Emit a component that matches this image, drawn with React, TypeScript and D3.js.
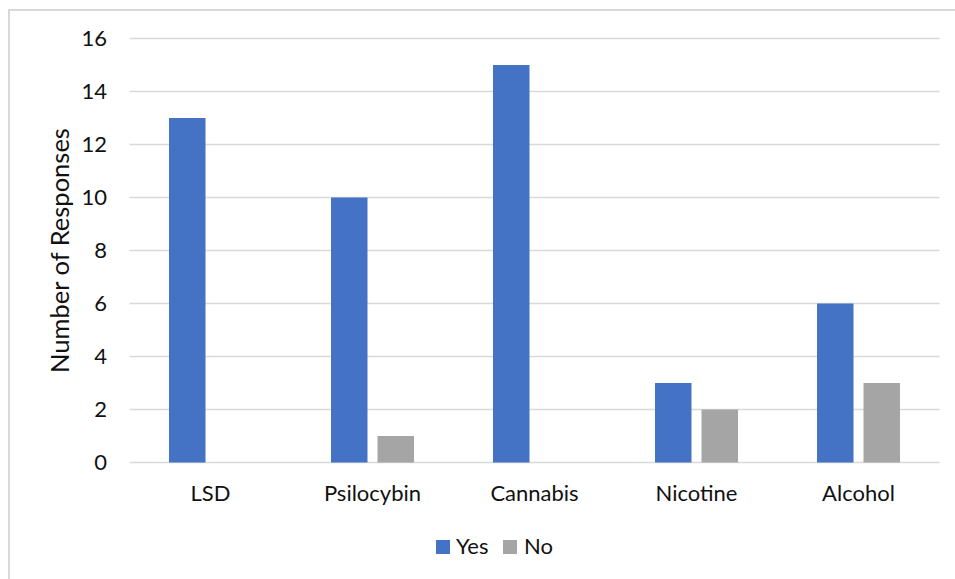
import React from "react";
import * as d3 from "d3";

const categories = ["LSD", "Psilocybin", "Cannabis", "Nicotine", "Alcohol"];
const seriesNames = ["Yes", "No"];
const yesValues = [13, 10, 15, 3, 6];
const noValues = [0, 1, 0, 2, 3];
const yTicks = [0, 2, 4, 6, 8, 10, 12, 14, 16];
const colors = ["#4472C4", "#A5A5A5"];

const W = 955;
const H = 579;
const plotLeft = 129.5;
const plotRight = 939.5;
const plotTop = 38.5;
const plotBottom = 462.5;
const FONT = "Lato, 'Open Sans', sans-serif";
const TEXT = "#111111";
const LABEL_SIZE = 22;

export default function App() {
  const x = d3.scaleBand<string>().domain(categories).range([plotLeft, plotRight]).paddingInner(0).paddingOuter(0);
  const inner = d3
    .scaleBand<string>()
    .domain(seriesNames)
    .range([39.5, 122.5])
    .paddingInner(10 / 46.5)
    .paddingOuter(0);
  const y = d3.scaleLinear().domain([0, 16]).range([plotBottom, plotTop]);
  const series = [yesValues, noValues];

  return (
    <svg
      width={W}
      height={H}
      style={{ position: "absolute", left: 0, top: 0, background: "#fff" }}
      fontFamily={FONT}
    >
      <rect x={0} y={0} width={W} height={H} fill="#fff" />
      <rect x={9} y={10} width={W + 10} height={H + 10} fill="none" stroke="#d9d9d9" strokeWidth={2} />
      {yTicks.map((t) => (
        <g key={t}>
          <line x1={plotLeft} x2={plotRight} y1={y(t)} y2={y(t)} stroke="#d9d9d9" strokeWidth={1.3} />
          <text x={107} y={y(t)} dy="0.36em" textAnchor="end" fontSize={LABEL_SIZE} fill={TEXT}>
            {t}
          </text>
        </g>
      ))}
      {categories.map((c, i) => (
        <g key={c}>
          {series.map((vals, s) =>
            vals[i] > 0 ? (
              <rect
                key={s}
                x={(x(c) as number) + (inner(seriesNames[s]) as number)}
                y={y(vals[i])}
                width={inner.bandwidth()}
                height={y(0) - y(vals[i])}
                fill={colors[s]}
              />
            ) : null
          )}
          <text x={(x(c) as number) + x.bandwidth() / 2} y={501} textAnchor="middle" fontSize={LABEL_SIZE} fill={TEXT}>
            {c}
          </text>
        </g>
      ))}
      <text
        transform={`translate(69, ${(plotTop + plotBottom) / 2}) rotate(-90)`}
        textAnchor="middle"
        fontSize={25.5}
        fill={TEXT}
      >
        Number of Responses
      </text>
      <g>
        <rect x={436} y={540} width={14} height={14} fill={colors[0]} />
        <text x={456} y={554} fontSize={LABEL_SIZE} fill={TEXT}>
          {seriesNames[0]}
        </text>
        <rect x={503} y={540} width={14} height={14} fill={colors[1]} />
        <text x={524} y={554} fontSize={LABEL_SIZE} fill={TEXT}>
          {seriesNames[1]}
        </text>
      </g>
    </svg>
  );
}
